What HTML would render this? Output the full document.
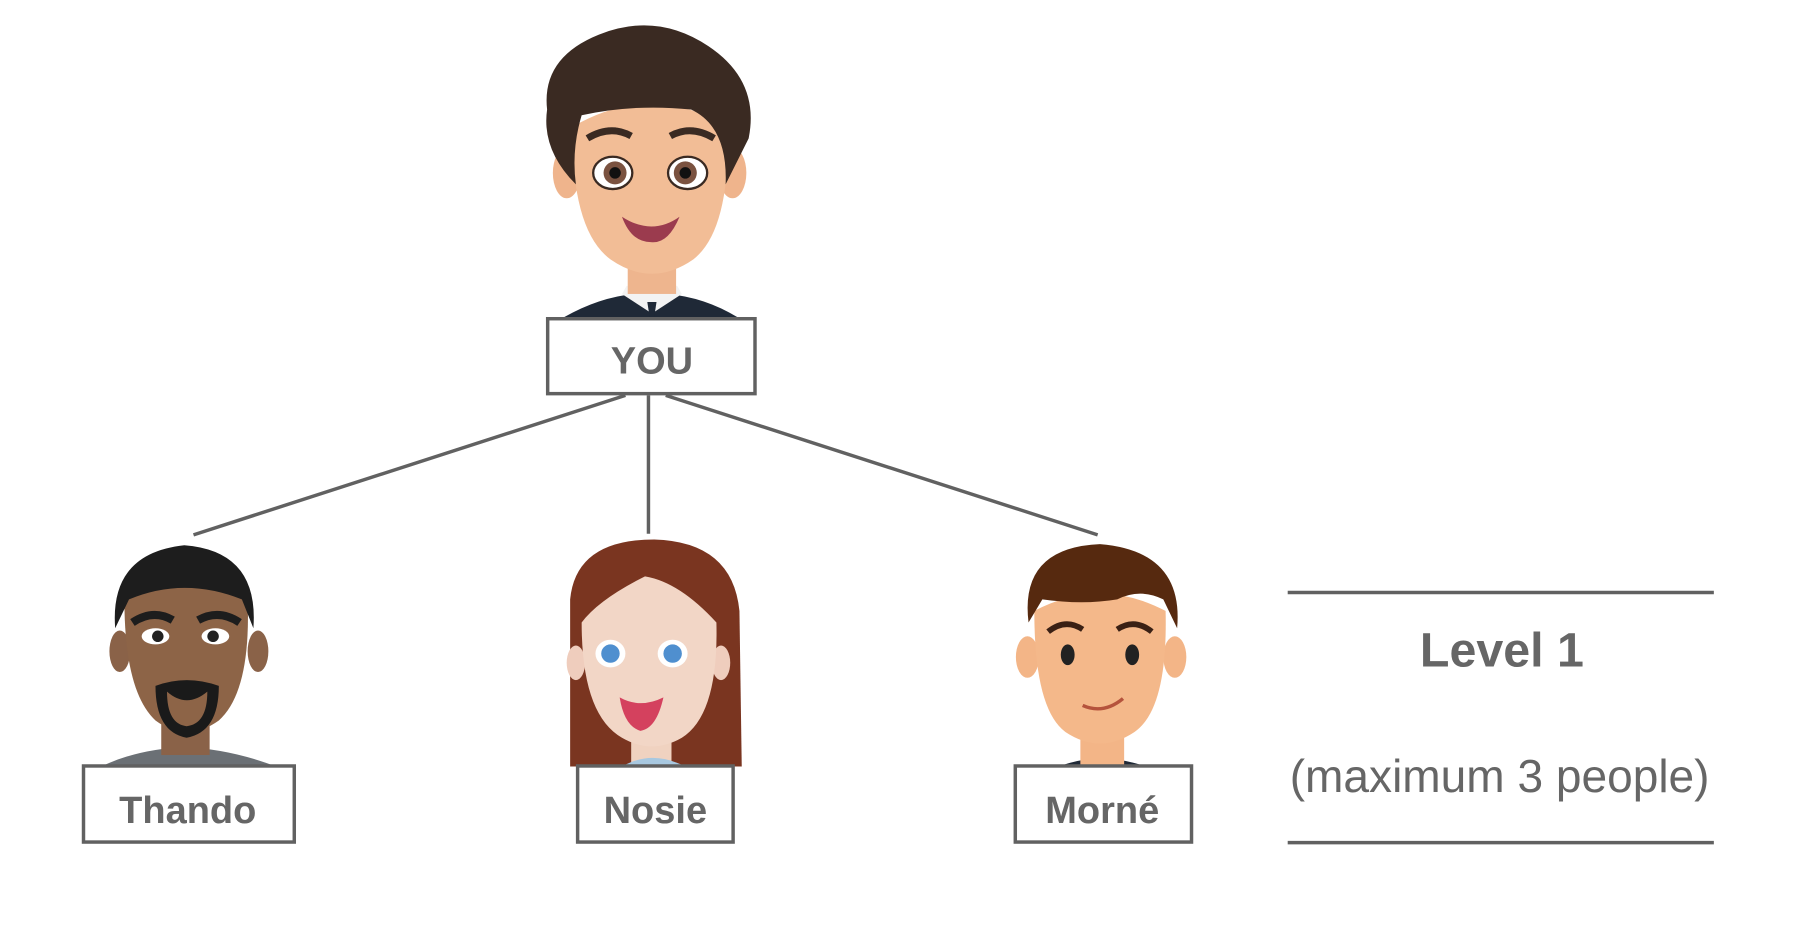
<!DOCTYPE html>
<html><head><style>html,body{margin:0;padding:0;background:#fff}svg{display:block}</style></head>
<body>
<svg width="1806" height="936" viewBox="0 0 1568 812" preserveAspectRatio="none" xmlns="http://www.w3.org/2000/svg">
<rect width="1568" height="812" fill="#fff"/>
<g stroke="#616161" stroke-width="3" fill="none">
<line x1="543" y1="343" x2="168" y2="464"/>
<line x1="563" y1="343" x2="563" y2="463"/>
<line x1="578" y1="343" x2="953" y2="464"/>
<line x1="1118" y1="514" x2="1488" y2="514"/>
<line x1="1118" y1="731" x2="1488" y2="731"/>
</g>
<!-- YOU avatar -->
<g>
<path d="M490 275 Q520 258 550 255 L580 255 Q612 258 640 275 Z" fill="#1f2937"/>
<path d="M540 255 L566 272 L592 255 L588 248 L544 248 Z" fill="#f3f3f3"/>
<path d="M562 262 L570 262 L568 275 L564 275 Z" fill="#1f2937"/>
<rect x="545" y="200" width="42" height="55" fill="#eeb58e"/>
<ellipse cx="492" cy="150" rx="12" ry="22" fill="#efb48c"/>
<ellipse cx="636" cy="150" rx="12" ry="22" fill="#efb48c"/>
<path d="M497 110 Q496 200 530 225 Q566 250 602 225 Q634 200 632 110 Q566 70 497 110 Z" fill="#f2bd96"/>
<path d="M475 95 Q470 50 520 30 Q570 10 615 40 Q660 70 650 120 L630 160 Q632 110 600 95 Q550 90 505 100 Q496 130 500 160 Q470 130 475 95 Z" fill="#3a2a22"/>
<path d="M510 120 Q530 108 548 118" stroke="#3a2a22" stroke-width="6" fill="none"/>
<path d="M582 118 Q600 108 620 120" stroke="#3a2a22" stroke-width="6" fill="none"/>
<ellipse cx="532" cy="150" rx="17" ry="14" fill="#fff" stroke="#3a2a22" stroke-width="2"/>
<ellipse cx="597" cy="150" rx="17" ry="14" fill="#fff" stroke="#3a2a22" stroke-width="2"/>
<circle cx="534" cy="150" r="10" fill="#7a5240"/><circle cx="595" cy="150" r="10" fill="#7a5240"/>
<circle cx="534" cy="150" r="5" fill="#111"/><circle cx="595" cy="150" r="5" fill="#111"/>
<path d="M540 188 Q566 205 590 188 Q580 212 565 210 Q548 210 540 188 Z" fill="#9b3b4e"/>
</g>
<!-- Thando -->
<g>
<path d="M90 664 Q120 650 160 648 Q200 650 237 664 Z" fill="#6b7075"/>
<rect x="140" y="610" width="42" height="45" fill="#8a6248"/>
<ellipse cx="104" cy="565" rx="9" ry="18" fill="#8a6248"/>
<ellipse cx="224" cy="565" rx="9" ry="18" fill="#8a6248"/>
<path d="M108 520 Q108 600 135 625 Q162 645 190 625 Q218 600 215 520 Q162 495 108 520 Z" fill="#8d6447"/>
<path d="M100 545 Q95 480 160 473 Q225 478 220 545 L210 520 Q160 500 112 520 Z" fill="#1d1d1d"/>
<path d="M115 540 Q133 528 150 538 M172 538 Q190 528 208 540" stroke="#1d1d1d" stroke-width="7" fill="none"/>
<ellipse cx="135" cy="552" rx="12" ry="7" fill="#fff"/><ellipse cx="187" cy="552" rx="12" ry="7" fill="#fff"/>
<circle cx="137" cy="552" r="5" fill="#222"/><circle cx="185" cy="552" r="5" fill="#222"/>
<path d="M135 595 Q162 585 190 595 Q190 635 162 640 Q135 635 135 595 Z M145 600 Q162 615 180 600 Q180 628 162 630 Q145 628 145 600 Z" fill="#1a1a1a" fill-rule="evenodd"/>
</g>
<!-- Nosie -->
<g>
<path d="M495 520 Q500 468 568 468 Q636 470 642 530 L644 665 L495 665 Z" fill="#7a3520"/>
<rect x="548" y="630" width="35" height="35" fill="#f0d2c0"/>
<path d="M540 665 Q566 650 595 665 Z" fill="#a8c8e0"/>
<ellipse cx="500" cy="575" rx="8" ry="15" fill="#efcdbd"/><ellipse cx="626" cy="575" rx="8" ry="15" fill="#efcdbd"/>
<path d="M505 540 Q505 620 540 640 Q566 655 592 640 Q624 620 622 540 Q590 505 560 500 Q520 520 505 540 Z" fill="#f2d6c6"/>
<ellipse cx="530" cy="567" rx="13" ry="12" fill="#fff"/><ellipse cx="584" cy="567" rx="13" ry="12" fill="#fff"/>
<circle cx="530" cy="567" r="8" fill="#4f8fcf"/><circle cx="584" cy="567" r="8" fill="#4f8fcf"/>
<path d="M538 605 Q556 615 576 605 Q570 632 556 634 Q542 630 538 605 Z" fill="#d4415e"/>
</g>
<!-- Morné -->
<g>
<path d="M922 664 Q955 652 992 664 Z" fill="#1f2937"/>
<rect x="938" y="620" width="38" height="44" fill="#f3b587"/>
<ellipse cx="892" cy="570" rx="10" ry="18" fill="#f3b587"/><ellipse cx="1020" cy="570" rx="10" ry="18" fill="#f3b587"/>
<path d="M898 530 Q898 615 925 635 Q955 655 985 635 Q1014 615 1012 530 Q955 500 898 530 Z" fill="#f4b88a"/>
<path d="M893 540 Q885 475 955 472 Q1028 478 1022 545 L1010 520 Q990 510 970 520 Q940 525 905 520 Z" fill="#56290f"/>
<path d="M910 548 Q925 536 940 546 M970 546 Q985 536 1000 548" stroke="#3a2014" stroke-width="5" fill="none"/>
<ellipse cx="927" cy="568" rx="6" ry="9" fill="#222"/><ellipse cx="983" cy="568" rx="6" ry="9" fill="#222"/>
<path d="M940 612 Q958 620 975 606" stroke="#b5533c" stroke-width="3" fill="none"/>
</g>
<g fill="#fff" stroke="#616161" stroke-width="3">
<rect x="475.5" y="276.5" width="180" height="65"/>
<rect x="72.5" y="664.5" width="183" height="66"/>
<rect x="501.5" y="664.5" width="135" height="66"/>
<rect x="881.5" y="664.5" width="153" height="66"/>
</g>
<g font-family="Liberation Sans, sans-serif" font-weight="bold" fill="#666" text-anchor="middle" font-size="33">
<text x="566" y="324">YOU</text>
<text x="163" y="714">Thando</text>
<text x="569" y="714">Nosie</text>
<text x="957" y="714">Morné</text>
<text x="1304" y="578" font-size="42">Level 1</text>
<text x="1302" y="687" font-size="40" font-weight="normal">(maximum 3 people)</text>
</g>
</svg>
</body></html>
